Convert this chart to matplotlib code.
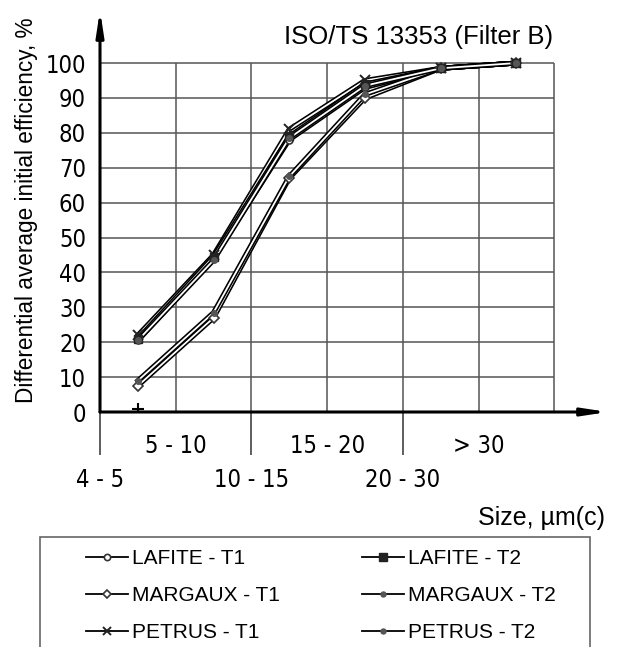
import matplotlib
matplotlib.use('Agg')
import matplotlib.pyplot as plt
from matplotlib.lines import Line2D
from matplotlib.patches import Rectangle
from matplotlib import font_manager

# ---------------- data ----------------
size_classes = ['4 - 5', '5 - 10', '10 - 15', '15 - 20', '20 - 30', '> 30']
lower_labels = ['4 - 5', '10 - 15', '20 - 30']
upper_labels = ['5 - 10', '15 - 20', '> 30']
y_ticks = [0, 10, 20, 30, 40, 50, 60, 70, 80, 90, 100]

lafite_t1 = [20.5, 44.0, 78.0, 93.0, 98.5, 100.0]
lafite_t2 = [21.0, 44.5, 79.0, 94.0, 98.5, 100.0]
margaux_t1 = [7.5, 27.0, 67.0, 90.0, 98.5, 100.0]
margaux_t2 = [9.0, 28.5, 67.5, 91.0, 98.5, 100.0]
petrus_t1 = [22.0, 45.0, 81.0, 95.0, 98.5, 100.0]
petrus_t2 = [20.5, 43.5, 78.5, 93.5, 98.5, 100.0]
stray_plus = [1.0]

series = [
    ('LAFITE - T1', lafite_t1, dict(marker='o', ms=5, mfc='white', mec='#333333', mew=1.2)),
    ('MARGAUX - T1', margaux_t1, dict(marker='D', ms=5, mfc='white', mec='#333333', mew=1.2)),
    ('PETRUS - T1', petrus_t1, dict(marker='x', ms=7, mec='#222222', mew=1.4)),
    ('LAFITE - T2', lafite_t2, dict(marker='s', ms=6, mfc='#222222', mec='#222222', mew=1)),
    ('MARGAUX - T2', margaux_t2, dict(marker='o', ms=4, mfc='#555555', mec='#555555', mew=1)),
    ('PETRUS - T2', petrus_t2, dict(marker='o', ms=4, mfc='#555555', mec='#555555', mew=1)),
]

# ---------------- fonts ----------------
names = {f.name for f in font_manager.fontManager.ttflist}
if 'Liberation Sans Narrow' in names:
    tick_font = dict(family='Liberation Sans Narrow', size=19)
else:
    tick_font = dict(family='DejaVu Sans', stretch='condensed', size=17)
txt_font = 'Liberation Sans'

# ---------------- figure ----------------
W, H = 621, 647
fig = plt.figure(figsize=(W / 100, H / 100), dpi=100)
fig.patch.set_facecolor('white')


def fx(px):
    return px / W


def fy(py):
    return 1 - py / H


ax = fig.add_axes([fx(100), fy(412), fx(608) - fx(100), fy(10) - fy(412)])
n = len(size_classes)
ax.set_xlim(0, 6.71)
ax.set_ylim(0, 115.2)
for s in ax.spines.values():
    s.set_visible(False)

# grid
grid_c = '#555555'
ax.hlines(y_ticks[1:], 0, n, colors=grid_c, lw=1.1, zorder=1)
ax.vlines(range(1, n + 1), 0, 100, colors=grid_c, lw=1.1, zorder=1)

# axes with arrows
arrow = dict(arrowstyle='-|>,head_length=1.45,head_width=0.22', color='black',
             lw=2.2, shrinkA=0, shrinkB=0, mutation_scale=10)
ax.annotate('', xy=(6.71, 0), xytext=(0, 0), arrowprops=arrow, annotation_clip=False, zorder=5)
ax.annotate('', xy=(0, 115.2), xytext=(0, 0), arrowprops=arrow, annotation_clip=False, zorder=5)

# data
xpos = [i + 0.5 for i in range(n)]
for label, vals, mk in series:
    ax.plot(xpos, vals, color='black', lw=3.6, solid_joinstyle='miter', zorder=3)
    ax.plot(xpos, vals, color='white', lw=1.3, solid_joinstyle='miter', zorder=3)
for label, vals, mk in series:
    ax.plot(xpos, vals, ls='none', zorder=4, **mk)
ax.plot([xpos[0]], stray_plus, ls='none', marker='+', ms=8, mew=1.5, color='black', zorder=4)

# ticks
ax.set_xticks([0, 2, 4])
ax.set_xticklabels(lower_labels, fontdict=tick_font)
ax.set_xticks([1, 3, 5], minor=True)
ax.set_xticklabels(upper_labels, minor=True, fontdict=tick_font)
ax.tick_params(axis='x', which='major', length=31, width=1.1, color='#333333', pad=9)
ax.tick_params(axis='x', which='minor', length=0, pad=16)
ax.set_yticks(y_ticks)
ax.set_yticklabels([str(v) for v in y_ticks], fontdict=tick_font)
ax.tick_params(axis='y', length=0, pad=10)

# texts
fig.text(fx(553), fy(37), 'ISO/TS 13353 (Filter B)', ha='right', va='center',
         fontsize=18.5, family=txt_font)
fig.text(fx(27), fy(210), 'Differential average initial efficiency, %', rotation=90,
         ha='center', va='center', fontsize=16.3, family=txt_font)
fig.text(fx(605), fy(518), 'Size, µm(c)', ha='right', va='center', fontsize=18, family=txt_font)

# legend
fig.patches.append(Rectangle((fx(40), fy(700)), fx(590) - fx(40), fy(537) - fy(700),
                             transform=fig.transFigure, fill=False, ec='#666666', lw=1.2))
handles = []
for label, vals, mk in series:
    mk2 = dict(mk)
    mk2['ms'] = mk2['ms'] * 0.9
    handles.append(Line2D([], [], color='black', lw=1.3, **mk2))
leg = fig.legend(handles, [s[0] for s in series], ncol=2, loc='upper left',
                 bbox_to_anchor=(fx(78), fy(541)), frameon=False,
                 prop=dict(family=txt_font, size=15), handlelength=2.0,
                 handletextpad=0.2, columnspacing=3.95, labelspacing=0.86,
                 borderpad=0.4, borderaxespad=0)

fig.savefig('out.png', dpi=100)
